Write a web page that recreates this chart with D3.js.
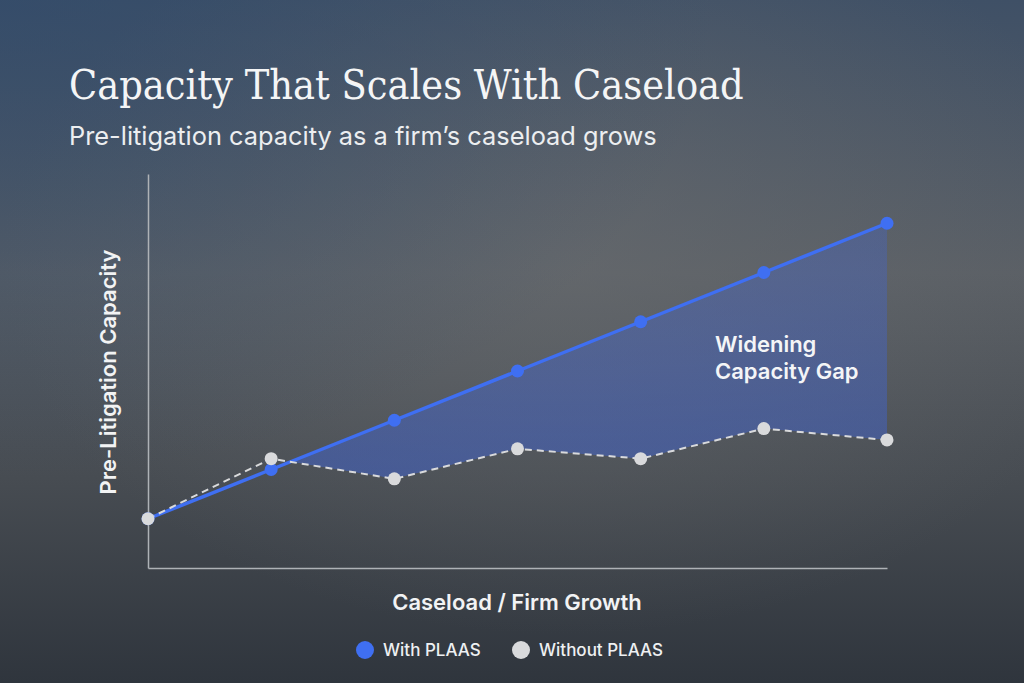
<!DOCTYPE html>
<html>
<head>
<meta charset="utf-8">
<script src="https://cdn.jsdelivr.net/npm/d3@7/dist/d3.min.js"></script>
<style>
html,body{margin:0;padding:0;background:#3a4048;}
svg{display:block;}
</style>
</head>
<body>
<svg id="chart" width="1024" height="683"></svg>
<script>
// ---- data ----
const steps = [0, 1, 2, 3, 4, 5, 6];            // caseload / firm growth stages
const withPlaas = [1.0, 2.0, 3.0, 4.0, 5.0, 6.0, 7.0];
const withoutPlaas = [1.0, 2.22, 1.81, 2.42, 2.22, 2.83, 2.6];
const seriesNames = ["With PLAAS", "Without PLAAS"];
const yDomain = [0, 8];

const titleText = "Capacity That Scales With Caseload";
const subtitleText = "Pre-litigation capacity as a firm\u2019s caseload grows";
const xLabel = "Caseload / Firm Growth";
const yLabel = "Pre-Litigation Capacity";
const gapLabel = ["Widening", "Capacity Gap"];

const W = 1024, H = 683;
const svg = d3.select("#chart");
const defs = svg.append("defs");

// background
const bg = defs.append("linearGradient").attr("id","bg").attr("x1",0).attr("y1",0).attr("x2",0).attr("y2",1);
bg.append("stop").attr("offset","0%").attr("stop-color","#3f5066");
bg.append("stop").attr("offset","40%").attr("stop-color","#5a5f65");
bg.append("stop").attr("offset","70%").attr("stop-color","#474c52");
bg.append("stop").attr("offset","100%").attr("stop-color","#2f353d");
svg.append("rect").attr("width",W).attr("height",H).attr("fill","url(#bg)");

const rg = defs.append("radialGradient").attr("id","glow").attr("cx","55%").attr("cy","38%").attr("r","55%");
rg.append("stop").attr("offset","0%").attr("stop-color","#6a6d70").attr("stop-opacity",0.55);
rg.append("stop").attr("offset","100%").attr("stop-color","#6a6d70").attr("stop-opacity",0);
svg.append("rect").attr("width",W).attr("height",H).attr("fill","url(#glow)");

const tlg = defs.append("radialGradient").attr("id","tl").attr("cx","0%").attr("cy","0%").attr("r","70%");
tlg.append("stop").attr("offset","0%").attr("stop-color","#2f4a6c").attr("stop-opacity",0.6);
tlg.append("stop").attr("offset","100%").attr("stop-color","#2f4a6c").attr("stop-opacity",0);
svg.append("rect").attr("width",W).attr("height",H).attr("fill","url(#tl)");

// layout
const pLeft = 148, pRight = 887, pTop = 174, pBottom = 568;
const x = d3.scaleLinear().domain(d3.extent(steps)).range([pLeft, pRight]);
const y = d3.scaleLinear().domain(yDomain).range([pBottom, pTop]);

// title
const title = svg.append("text").attr("x",69).attr("y",99)
  .attr("font-family","'DejaVu Serif',serif").attr("font-stretch","condensed")
  .attr("font-size",40).attr("fill","#f4f5f6").text(titleText);
const tw = title.node().getComputedTextLength();
title.attr("font-size", 40 * 675 / tw);

const sub = svg.append("text").attr("x",69).attr("y",145)
  .attr("font-family","Inter, 'Noto Sans', sans-serif")
  .attr("font-size",23).attr("fill","#eceef0").text(subtitleText);
const sw = sub.node().getComputedTextLength();
sub.attr("font-size", 23 * 588 / sw);

// axes (no ticks)
const axisColor = "#aeb2b6";
svg.append("g").attr("transform",`translate(0,${pBottom})`)
  .call(d3.axisBottom(x).tickValues([]).tickSizeOuter(0))
  .call(g=>g.select(".domain").attr("stroke",axisColor).attr("stroke-width",1.5));
svg.append("g").attr("transform",`translate(${pLeft},0)`)
  .call(d3.axisLeft(y).tickValues([]).tickSizeOuter(0))
  .call(g=>g.select(".domain").attr("stroke",axisColor).attr("stroke-width",1.5));

// axis labels
svg.append("text").attr("x",517).attr("y",610).attr("text-anchor","middle")
  .attr("font-family","Inter, 'Noto Sans', sans-serif").attr("font-weight",600)
  .attr("font-size",22).attr("fill","#f2f3f4").text(xLabel);
svg.append("text").attr("transform","translate(116,372) rotate(-90)").attr("text-anchor","middle")
  .attr("font-family","Inter, 'Noto Sans', sans-serif").attr("font-weight",600)
  .attr("font-size",22).attr("fill","#f2f3f4").text(yLabel);

// gap fill
const data = steps.map((s,i)=>({s, w: withPlaas[i], o: withoutPlaas[i]}));
const fillGrad = defs.append("linearGradient").attr("id","gapfill").attr("gradientUnits","userSpaceOnUse")
  .attr("x1",0).attr("y1",y(7)).attr("x2",0).attr("y2",y(1.8));
fillGrad.append("stop").attr("offset","0%").attr("stop-color","#3f66e0").attr("stop-opacity",0.28);
fillGrad.append("stop").attr("offset","100%").attr("stop-color","#3f66e0").attr("stop-opacity",0.45);

const clipArea = d3.area().x(d=>x(d.s)).y0(pTop-50).y1(d=>y(d.o));
defs.append("clipPath").attr("id","aboveWithout").append("path").attr("d", clipArea(data));
const gapArea = d3.area().x(d=>x(d.s)).y0(d=>y(d.o)).y1(d=>y(d.w));
svg.append("path").attr("d",gapArea(data)).attr("fill","url(#gapfill)").attr("clip-path","url(#aboveWithout)");

// lines
const lineW = d3.line().x(d=>x(d.s)).y(d=>y(d.w));
const lineO = d3.line().x(d=>x(d.s)).y(d=>y(d.o));
const blue = "#3f6ff2", gray = "#d9dadc";
svg.append("path").attr("d",lineW(data)).attr("fill","none").attr("stroke",blue).attr("stroke-width",3.5);
svg.append("path").attr("d",lineO(data)).attr("fill","none").attr("stroke",gray).attr("stroke-width",2).attr("stroke-dasharray","7,5");

svg.append("g").selectAll("circle").data(data).join("circle")
  .attr("cx",d=>x(d.s)).attr("cy",d=>y(d.w)).attr("r",6.5).attr("fill",blue);
svg.append("g").selectAll("circle").data(data).join("circle")
  .attr("cx",d=>x(d.s)).attr("cy",d=>y(d.o)).attr("r",6.5).attr("fill",gray);

// annotation
const ann = svg.append("text").attr("font-family","Inter, 'Noto Sans', sans-serif").attr("font-weight",600)
  .attr("font-size",22).attr("fill","#f4f5f7");
gapLabel.forEach((t,i)=>ann.append("tspan").attr("x",715).attr("y",352+i*27).text(t));

// legend
const legend = svg.append("g");
const lx = [365, 521];
seriesNames.forEach((n,i)=>{
  legend.append("circle").attr("cx",lx[i]).attr("cy",650).attr("r",9).attr("fill", i===0?blue:gray);
  legend.append("text").attr("x",lx[i]+18).attr("y",656)
    .attr("font-family","Inter, 'Noto Sans', sans-serif").attr("font-weight",500)
    .attr("font-size",17).attr("fill","#eef0f2").text(n);
});
</script>
</body>
</html>
